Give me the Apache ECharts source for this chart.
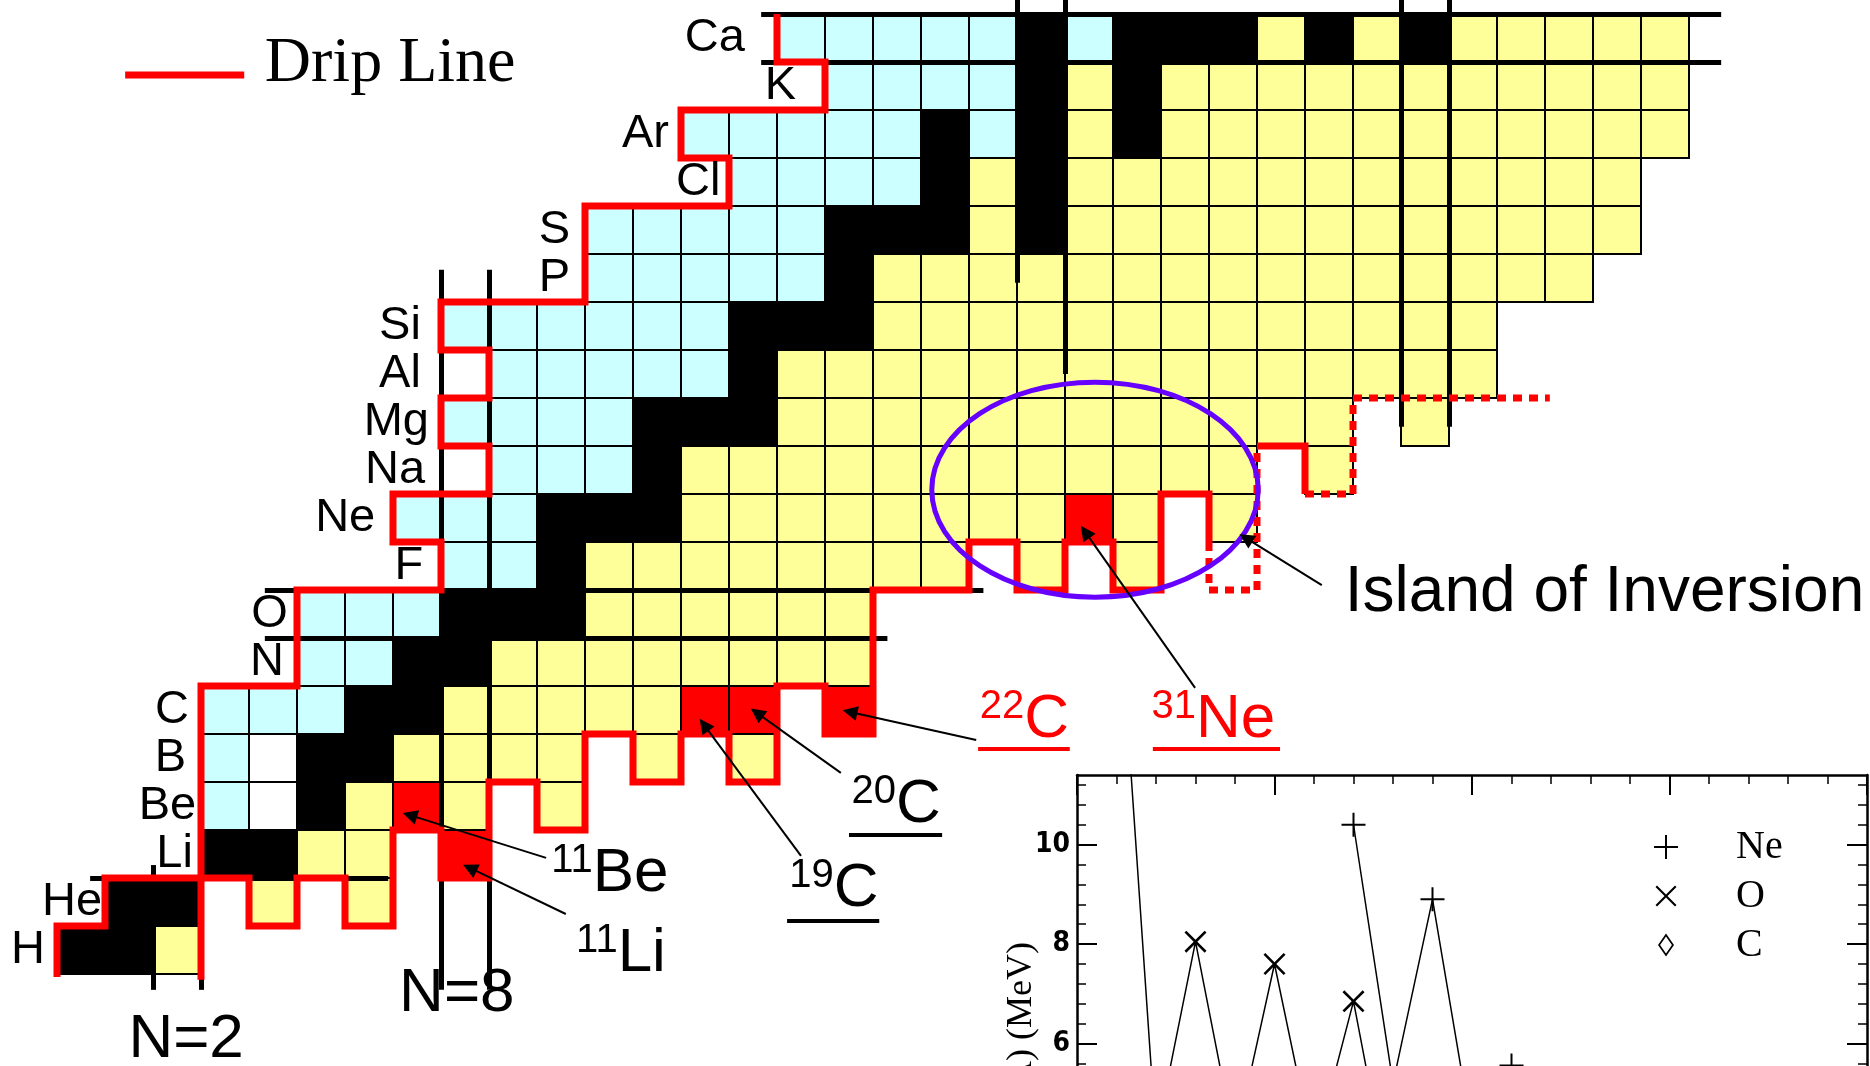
<!DOCTYPE html>
<html><head><meta charset="utf-8">
<script src="https://cdn.jsdelivr.net/npm/echarts@6/dist/echarts.min.js"></script>
<style>html,body{margin:0;padding:0;background:#fff}#c{width:1870px;height:1066px}</style>
</head><body><div id="c"></div>
<script>
// ---------- chart of nuclides (N across, Z up) ----------
const elementNames = ['H','He','Li','Be','B','C','N','O','F','Ne','Na','Mg','Al','Si','P','S','Cl','Ar','K','Ca'];
const elementLabelN = [-0.75,0.44,2.33,2.4,2.19,2.25,4.23,4.31,7.13,6.13,7.17,7.25,7.08,7.08,10.19,10.19,13.32,12.25,14.9,13.83];
// runs per Z=1..20 : [code,count,...] starting at N=0 ; c proton-rich, k stable, y neutron-rich, r highlighted, w unbound, . none
const rowRuns = [
  ['k',2,'y',1],
  ['.',1,'k',2,'.',1,'y',1,'.',1,'y',1],
  ['.',3,'k',2,'y',2,'.',1,'r',1],
  ['.',3,'c',1,'w',1,'k',1,'y',1,'r',1,'y',1,'.',1,'y',1],
  ['.',3,'c',1,'w',1,'k',2,'y',4,'.',1,'y',1,'.',1,'y',1],
  ['.',3,'c',3,'k',2,'y',5,'r',2,'.',1,'r',1],
  ['.',5,'c',2,'k',2,'y',8],
  ['.',5,'c',3,'k',3,'y',6],
  ['.',8,'c',2,'k',1,'y',8,'.',1,'y',1,'.',1,'y',1],
  ['.',7,'c',3,'k',3,'y',8,'r',1,'y',1,'.',1,'y',1],
  ['.',9,'c',3,'k',1,'y',12,'.',1,'y',1],
  ['.',8,'c',4,'k',3,'y',12,'.',1,'y',1],
  ['.',9,'c',5,'k',1,'y',15],
  ['.',8,'c',6,'k',3,'y',13],
  ['.',11,'c',5,'k',1,'y',15],
  ['.',11,'c',5,'k',3,'y',1,'k',1,'y',12],
  ['.',14,'c',4,'k',1,'y',1,'k',1,'y',12],
  ['.',13,'c',5,'k',1,'c',1,'k',1,'y',1,'k',1,'y',11],
  ['.',16,'c',4,'k',1,'y',1,'k',1,'y',11],
  ['.',15,'c',5,'k',1,'c',1,'k',3,'y',1,'k',1,'y',1,'k',1,'y',5]
];
const cellCodes = ['c','k','y','r','w'];
const cellFill = ['#CCFFFF','#000000','#FFFF99','#FF0000','#FFFFFF'];

// drip line (cell-edge coordinates)
const dripProton = [[14.5,20.5],[14.5,19.5],[15.5,19.5],[15.5,18.5],[12.5,18.5],[12.5,17.5],[13.5,17.5],[13.5,16.5],[10.5,16.5],[10.5,14.5],[7.5,14.5],[7.5,13.5],[8.5,13.5],[8.5,12.5],[7.5,12.5],[7.5,11.5],[8.5,11.5],[8.5,10.5],[6.5,10.5],[6.5,9.5],[7.5,9.5],[7.5,8.5],[4.5,8.5],[4.5,6.5],[2.5,6.5],[2.5,0.38]];
const dripNeutron = [[-0.5,0.44],[-0.5,1.5],[0.5,1.5],[0.5,2.5],[3.5,2.5],[3.5,1.5],[4.5,1.5],[4.5,2.5],[5.5,2.5],[5.5,1.5],[6.5,1.5],[6.5,3.5],[7.5,3.5],[7.5,2.5],[8.5,2.5],[8.5,4.5],[9.5,4.5],[9.5,3.5],[10.5,3.5],[10.5,5.5],[11.5,5.5],[11.5,4.5],[12.5,4.5],[12.5,5.5],[13.5,5.5],[13.5,4.5],[14.5,4.5],[14.5,6.5],[15.5,6.5],[15.5,5.5],[16.5,5.5],[16.5,8.5],[18.5,8.5],[18.5,9.5],[19.5,9.5],[19.5,8.5],[20.5,8.5],[20.5,9.5],[21.5,9.5],[21.5,8.5],[22.5,8.5],[22.5,10.5],[23.5,10.5],[23.5,9.5]];
const dripNeutronB = [[24.5,11.5],[25.5,11.5],[25.5,10.5]];
const dripDotted1 = [[23.5,9.5],[23.5,8.5],[24.5,8.5],[24.5,11.5]];
const dripDotted2 = [[25.5,10.5],[26.5,10.5],[26.5,12.5],[30.6,12.5]];
const dripLegend = [[0.92,19.23],[3.4,19.23]];

// magic-number lines
const magicLines = [
  [[1.5,0.17],[1.5,2.77]], [[2.5,0.17],[2.5,2.5]],
  [[0.19,2.5],[6.4,2.5]],
  [[7.5,0.17],[7.5,15.17]], [[8.5,0.17],[8.5,15.17]],
  [[3.83,8.5],[18.8,8.5]], [[3.83,7.5],[16.8,7.5]],
  [[19.5,20.79],[19.5,14.9]], [[20.5,20.79],[20.5,13.0]],
  [[14.17,20.5],[34.17,20.5]], [[14.17,19.5],[34.17,19.5]],
  [[27.5,20.79],[27.5,11.9]], [[28.5,20.79],[28.5,11.9]]
];

// island of inversion ellipse: centre N, Z, radius N, radius Z
const islandEllipse = [21.125, 10.59, 3.4, 2.24];

// annotations
const annoSup  = ['22','31','20','19','11','11'];
const annoMain = ['C','Ne','C','C','Be','Li'];
const annoColor= ['#FF0000','#FF0000','#000000','#000000','#000000','#000000'];
const annoAt   = [[19.65,5.79],[23.23,5.79],[16.98,4.02],[15.68,2.27],[10.66,2.58],[11.18,0.92]];
const underlineFrom = [[18.69,5.19],[22.33,5.19],[16.0,3.4],[14.71,1.6]];
const underlineTo   = [[20.6,5.19],[24.98,5.19],[17.94,3.4],[16.63,1.6]];
const underlineColor= ['#FF0000','#FF0000','#000000','#000000'];
const arrowFrom = [[18.65,5.375],[23.21,6.46],[25.85,8.6],[15.83,4.69],[15.0,2.96],[9.69,2.92],[10.1,1.75]];
const arrowTo   = [[16.02,5.96],[20.92,9.71],[24.27,9.58],[14.08,5.94],[12.98,5.69],[6.85,3.81],[8.1,2.71]];
const plainTexts = ['Drip Line','N=2','N=8','Island of Inversion'];
const plainAt    = [[3.83,19.45],[2.19,-0.875],[7.83,0.083],[26.33,8.44]];

// ---------- inset: separation energy vs A ----------
const insetA_Ne = [22,23,24,25,26,27,28];
const insetS_Ne = [10.4,5.2,8.9,4.2,5.56,1.4,3.9];
const insetA_O  = [16,17,18,19,20,21,22,23,24];
const insetS_O  = [15.7,4.1,8.05,4.0,7.6,3.8,6.85,2.7,4.2];
const insetA_C  = [15,16,17,18,19,20];
const insetS_C  = [1.2,4.25,0.7,4.2,0.6,2.9];
const insetMajorS = [6, 8, 10];
const insetMinorS = [5.6,6.0,6.4,6.8,7.2,7.6,8.0,8.4,8.8,9.2,9.6,10.0,10.4,10.8,11.2];

// ---------- build ----------
const cells = [];
rowRuns.forEach((runs, i) => {
  const Z = i + 1; let N = 0;
  for (let j = 0; j < runs.length; j += 2) {
    for (let k = 0; k < runs[j+1]; k++) {
      if (runs[j] !== '.') cells.push([N, Z, cellCodes.indexOf(runs[j])]);
      N++;
    }
  }
});
const SANS = 'Liberation Sans, Arial, sans-serif';
const SERIF = 'Liberation Serif, Times New Roman, serif';
const PLUS = 'path://M11,0H13V11H24V13H13V24H11V13H0V11H11Z';
const CROSS = 'path://M2,0L12,10L22,0L24,2L14,12L24,22L22,24L12,14L2,24L0,22L10,12L0,2Z';
const CROSS_LEG = 'path://M0,0M24,24M3,1.5L12,10.5L21,1.5L22.5,3L13.5,12L22.5,21L21,22.5L12,13.5L3,22.5L1.5,21L10.5,12L1.5,3Z';
const DIAMOND_LEG = 'path://M0,0M24,24M12,0.5L20,12L12,23.5L4,12ZM12,3.6L6.1,12L12,20.4L17.9,12Z';

function txt(x, y, text, size, fam, color, align, valign, weight) {
  return {type:'text', x:x, y:y, style:{text:text, fontSize:size, fontFamily:fam, fill:color, fontWeight:weight || 'normal',
    align:align, verticalAlign:valign, textAlign:align, textVerticalAlign:valign}};
}
function dripSeries(data, dotted) {
  return {type:'line', xAxisIndex:0, yAxisIndex:0, data:data, showSymbol:false, symbol:'none', clip:false, z:4,
    lineStyle:{color:'#FF0000', width:7, type: dotted ? [9,7] : 'solid', join:'miter', cap:'butt'}, silent:true};
}
const axLine = {onZero:false, lineStyle:{color:'#000', width:2.5}};
const tickLabel = {color:'#000', fontSize:28, fontWeight:'bold', fontFamily:'Liberation Sans Narrow, DejaVu Sans Condensed, sans-serif'};

const chart = echarts.init(document.getElementById('c'), null, {renderer:'canvas'});
chart.setOption({
  animation:false,
  backgroundColor:'#fff',
  grid:[
    {left:9, top:0, width:1824, height:1066},
    {left:1077, top:775, width:790, height:291}
  ],
  xAxis:[
    {gridIndex:0, type:'value', min:-1.5, max:36.5, show:false},
    {gridIndex:1, type:'value', min:15, max:35, interval:5, position:'bottom', show:false},
    {gridIndex:1, type:'value', min:15, max:35, interval:5, position:'top', axisLine:axLine,
      axisTick:{inside:true, length:20, lineStyle:{color:'#000', width:2}},
      minorTick:{show:true, splitNumber:5, length:9, lineStyle:{color:'#000', width:1.5}},
      axisLabel:{show:false}, splitLine:{show:false}}
  ],
  yAxis:[
    {gridIndex:0, type:'value', min:-1.41667, max:20.79167, show:false},
    {gridIndex:1, type:'value', min:5.55, max:11.4, position:'left', axisLine:axLine,
      axisTick:{inside:true, length:20, lineStyle:{color:'#000', width:2}, customValues:insetMajorS},
      axisLabel:Object.assign({margin:7, customValues:insetMajorS}, tickLabel), splitLine:{show:false}},
    {gridIndex:1, type:'value', min:5.55, max:11.4, position:'left', axisLine:{show:false},
      axisTick:{inside:true, length:9, lineStyle:{color:'#000', width:1.5}, customValues:insetMinorS},
      axisLabel:{show:false}, splitLine:{show:false}},
    {gridIndex:1, type:'value', min:5.55, max:11.4, position:'right', axisLine:axLine,
      axisTick:{inside:true, length:20, lineStyle:{color:'#000', width:2}, customValues:insetMajorS},
      axisLabel:{show:false}, splitLine:{show:false}},
    {gridIndex:1, type:'value', min:5.55, max:11.4, position:'right', axisLine:{show:false},
      axisTick:{inside:true, length:9, lineStyle:{color:'#000', width:1.5}, customValues:insetMinorS},
      axisLabel:{show:false}, splitLine:{show:false}}
  ],
  legend:{
    orient:'vertical', left:1649, top:822, itemWidth:24, itemHeight:24, itemGap:9,
    textStyle:{fontFamily:SERIF, fontSize:40, color:'#000', padding:[0,0,0,53]},
    data:[{name:'Ne', icon:PLUS},{name:'O', icon:CROSS_LEG},{name:'C', icon:DIAMOND_LEG}]
  },
  graphic:[
    {type:'text', x:1022, y:942, rotation:Math.PI/2,
      style:{text:'Sn(A) (MeV)', fontSize:36, fontFamily:SERIF, fill:'#000', align:'right', verticalAlign:'middle', textAlign:'right', textVerticalAlign:'middle'}}
  ],
  series:[
    {type:'custom', xAxisIndex:0, yAxisIndex:0, data:cells, z:1, silent:true,
      renderItem:function(params, api){
        const N = api.value(0), Z = api.value(1), t = api.value(2);
        const p0 = api.coord([N-0.5, Z+0.5]), p1 = api.coord([N+0.5, Z-0.5]);
        return {type:'rect', shape:{x:p0[0], y:p0[1], width:p1[0]-p0[0], height:p1[1]-p0[1]},
          style:{fill:cellFill[t], stroke:'#000', lineWidth:2}};
      }},
    {type:'lines', coordinateSystem:'cartesian2d', xAxisIndex:0, yAxisIndex:0, z:3, silent:true, clip:false,
      data:magicLines.map(c => ({coords:c})), lineStyle:{color:'#000', width:5, opacity:1}},
    dripSeries(dripProton, false),
    dripSeries(dripNeutron, false),
    dripSeries(dripNeutronB, false),
    dripSeries(dripDotted1, true),
    dripSeries(dripDotted2, true),
    dripSeries(dripLegend, false),
    {type:'custom', xAxisIndex:0, yAxisIndex:0, data:[islandEllipse], z:5, silent:true,
      renderItem:function(params, api){
        const c = api.coord([api.value(0), api.value(1)]);
        const s = api.size([api.value(2), api.value(3)]);
        return {type:'ellipse', shape:{cx:c[0], cy:c[1], rx:s[0], ry:s[1]},
          style:{fill:'none', stroke:'#6600FF', lineWidth:5}};
      }},
    {type:'lines', coordinateSystem:'cartesian2d', xAxisIndex:0, yAxisIndex:0, z:6, silent:true, clip:false,
      data:arrowFrom.map((f,i) => ({coords:[f, arrowTo[i]]})),
      symbol:['none','triangle'], symbolSize:15, lineStyle:{color:'#000', width:2, opacity:1}},
    {type:'lines', coordinateSystem:'cartesian2d', xAxisIndex:0, yAxisIndex:0, z:6, silent:true, clip:false,
      data:underlineFrom.map((f,i) => ({coords:[f, underlineTo[i]], lineStyle:{color:underlineColor[i]}})),
      lineStyle:{width:4, opacity:1}},
    {type:'custom', xAxisIndex:0, yAxisIndex:0, z:7, silent:true,
      data:elementNames.map((n,i) => [elementLabelN[i], i+1]),
      renderItem:function(params, api){
        const p = api.coord([api.value(0), api.value(1)]);
        return txt(p[0], p[1], elementNames[params.dataIndex], 47, SANS, '#000', 'right', 'middle');
      }},
    {type:'custom', xAxisIndex:0, yAxisIndex:0, z:7, silent:true, data:annoAt,
      renderItem:function(params, api){
        const i = params.dataIndex;
        const p = api.coord([api.value(0), api.value(1)]);
        return {type:'group', children:[
          txt(p[0], p[1]-13, annoSup[i], 40, SANS, annoColor[i], 'right', 'middle'),
          txt(p[0], p[1], annoMain[i], 62, SANS, annoColor[i], 'left', 'middle')
        ]};
      }},
    {type:'custom', xAxisIndex:0, yAxisIndex:0, z:7, silent:true, data:plainAt,
      renderItem:function(params, api){
        const i = params.dataIndex;
        const p = api.coord([api.value(0), api.value(1)]);
        if (i === 0) return txt(p[0], p[1], plainTexts[i], 64, SERIF, '#000', 'left', 'middle');
        if (i === 3) return txt(p[0], p[1], plainTexts[i], 64, SANS, '#000', 'left', 'middle');
        return txt(p[0], p[1], plainTexts[i], 62, SANS, '#000', 'center', 'middle');
      }},
    {name:'Ne', type:'line', xAxisIndex:1, yAxisIndex:1, data:insetA_Ne.map((a,i)=>[a, insetS_Ne[i]]),
      symbol:PLUS, symbolSize:24, showSymbol:true, itemStyle:{color:'#000'}, lineStyle:{color:'#000', width:1.5}},
    {name:'O', type:'line', xAxisIndex:1, yAxisIndex:1, data:insetA_O.map((a,i)=>[a, insetS_O[i]]),
      symbol:CROSS, symbolSize:22, showSymbol:true, itemStyle:{color:'#000'}, lineStyle:{color:'#000', width:1.5}},
    {name:'C', type:'line', xAxisIndex:1, yAxisIndex:1, data:insetA_C.map((a,i)=>[a, insetS_C[i]]),
      symbol:'emptyDiamond', symbolSize:18, showSymbol:true, itemStyle:{color:'#000'}, lineStyle:{color:'#000', width:1.5}}
  ]
});
</script></body></html>
